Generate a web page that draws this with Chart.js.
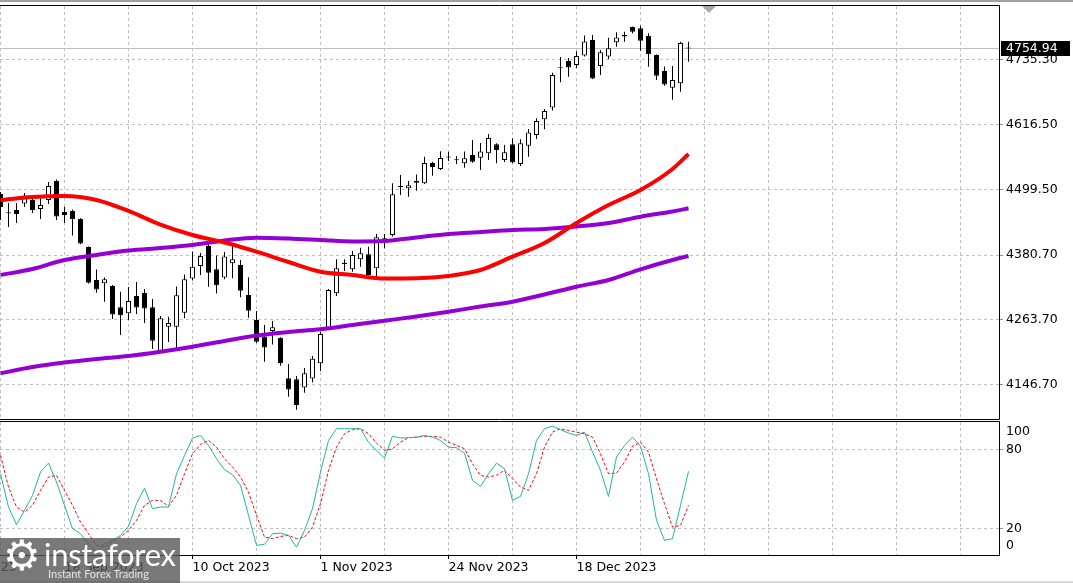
<!DOCTYPE html>
<html>
<head>
<meta charset="utf-8">
<script src="https://cdn.jsdelivr.net/npm/chart.js@4.4.0/dist/chart.umd.min.js"></script>
<style>
  html, body { margin: 0; padding: 0; background: #fff; }
  #wrap { position: relative; width: 1073px; height: 583px; overflow: hidden; background: #fff; }
  #c1 { position: absolute; left: 0; top: 0; }
  #c2 { position: absolute; left: 0; top: 420px; }
  #frameTop { position: absolute; left: 0; top: 0; width: 1073px; height: 2px; background: #a0a0a0; }
  #frameBottom { position: absolute; left: 0; top: 581px; width: 1073px; height: 2px; background: #d8d8d8; }
  #shift { position: absolute; left: 702px; top: 6px; width: 0; height: 0;
           border-left: 7px solid transparent; border-right: 7px solid transparent; border-top: 7px solid #a8a8a8; }
  #logo { position: absolute; left: 0; top: 538px; width: 180px; height: 45px; background: rgba(88, 88, 88, 0.8); }
  #gear { position: absolute; left: 3px; top: -3px; font: 42px 'DejaVu Sans'; color: #fff; line-height: 1; }
  #brand { position: absolute; left: 44px; top: 1px; font: 31px Lato; color: #fff; line-height: 1; letter-spacing: -0.3px; }
  #tag { position: absolute; left: 48px; top: 30px; font: 11px Lato; color: #e4e4e4; line-height: 1; }
</style>
</head>
<body>
<div id="wrap">
  <canvas id="c1" width="1073" height="420"></canvas>
  <canvas id="c2" width="1073" height="163"></canvas>
  <div id="frameTop"></div>
  <div id="frameBottom"></div>
  <div id="shift"></div>
  <div id="logo">
    <div id="gear">⚙</div>
    <div id="brand">instaforex</div>
    <div id="tag">Instant Forex Trading</div>
  </div>
</div>
<script>
// daily candles, bar index 0 .. 86
const opens = [4491.4, 4457.0, 4462.4, 4474.2, 4480.5, 4464.2, 4480.5, 4514.9, 4458.8, 4460.6,
  4446.1, 4395.4, 4335.6, 4329.6, 4324.8, 4286.2, 4275.3, 4306.6, 4312.1, 4286.2,
  4207.0, 4251.0, 4251.0, 4276.4, 4338.3, 4361.0, 4397.2, 4355.0, 4340.1, 4365.9,
  4362.8, 4308.5, 4263.2, 4232.9, 4243.3, 4231.1, 4157.6, 4155.8, 4140.9, 4157.2,
  4184.8, 4248.1, 4311.5, 4366.9, 4355.0, 4373.1, 4382.2, 4356.8, 4405.0, 4417.1,
  4505.9, 4501.7, 4514.9, 4510.7, 4547.5, 4536.6, 4557.5, 4552.9, 4547.0, 4562.0,
  4557.1, 4565.1, 4581.4, 4552.9, 4581.4, 4545.7, 4578.8, 4598.2, 4626.6, 4648.0,
  4719.0, 4732.2, 4725.0, 4742.2, 4770.3, 4723.2, 4740.4, 4766.1, 4779.3, 4793.8,
  4791.4, 4777.5, 4743.1, 4714.1, 4683.9, 4691.8, 4755.8];
const highs = [4495.0, 4475.1, 4475.1, 4493.2, 4489.6, 4484.1, 4513.1, 4517.6, 4467.8, 4463.3,
  4447.5, 4396.5, 4354.6, 4340.1, 4326.6, 4314.4, 4322.9, 4332.0, 4319.3, 4301.2,
  4270.4, 4269.2, 4323.8, 4345.6, 4387.2, 4384.5, 4402.1, 4380.0, 4386.3, 4398.1,
  4371.8, 4340.5, 4279.5, 4254.1, 4261.4, 4232.0, 4183.5, 4161.8, 4176.3, 4198.0,
  4241.4, 4319.3, 4373.1, 4373.1, 4388.1, 4394.1, 4395.9, 4418.9, 4418.9, 4510.7,
  4525.8, 4514.9, 4526.7, 4558.9, 4549.9, 4568.7, 4568.0, 4560.2, 4568.3, 4589.2,
  4583.7, 4600.0, 4583.2, 4580.1, 4592.2, 4590.4, 4609.1, 4628.5, 4645.3, 4711.0,
  4739.5, 4737.7, 4749.8, 4778.4, 4779.3, 4752.1, 4774.4, 4784.2, 4785.3, 4794.5,
  4796.2, 4782.4, 4744.0, 4722.3, 4723.2, 4767.2, 4767.2];
const lows = [4444.3, 4431.6, 4438.8, 4467.8, 4457.0, 4446.1, 4473.3, 4444.3, 4438.8, 4416.2,
  4400.5, 4329.5, 4312.6, 4296.3, 4265.0, 4236.0, 4263.2, 4274.0, 4257.7, 4210.7,
  4203.4, 4223.3, 4212.5, 4266.3, 4334.7, 4344.7, 4323.5, 4311.2, 4336.9, 4338.7,
  4304.3, 4267.3, 4221.5, 4187.7, 4218.8, 4180.4, 4124.3, 4100.7, 4131.5, 4150.0,
  4170.8, 4247.0, 4306.6, 4351.9, 4350.7, 4359.7, 4343.5, 4341.6, 4393.0, 4414.4,
  4489.6, 4486.5, 4497.3, 4509.5, 4524.5, 4534.8, 4551.1, 4545.7, 4539.0, 4548.1,
  4534.8, 4552.9, 4547.0, 4549.3, 4547.0, 4542.1, 4558.9, 4591.0, 4608.5, 4642.6,
  4693.7, 4703.8, 4719.6, 4740.4, 4699.6, 4706.9, 4735.9, 4758.1, 4767.2, 4782.4,
  4750.9, 4721.9, 4697.8, 4687.5, 4662.1, 4676.6, 4731.0];
const closes = [4467.8, 4456.4, 4455.1, 4488.6, 4462.4, 4471.4, 4505.9, 4450.6, 4453.3, 4446.1,
  4401.7, 4330.7, 4318.4, 4336.9, 4273.1, 4271.7, 4297.6, 4285.8, 4284.0, 4225.7,
  4266.3, 4257.7, 4307.9, 4336.9, 4359.7, 4379.1, 4348.8, 4326.0, 4378.2, 4373.1,
  4316.2, 4280.0, 4223.9, 4213.4, 4250.0, 4185.3, 4137.3, 4109.2, 4166.7, 4193.1,
  4237.8, 4317.5, 4356.8, 4364.6, 4380.9, 4384.0, 4344.7, 4412.9, 4411.1, 4490.8,
  4504.0, 4507.1, 4511.8, 4547.5, 4540.3, 4556.6, 4558.4, 4552.4, 4556.0, 4549.9,
  4568.3, 4592.8, 4571.0, 4566.9, 4548.4, 4583.2, 4602.7, 4623.6, 4641.7, 4706.9,
  4719.6, 4720.5, 4741.3, 4767.5, 4700.5, 4748.0, 4755.2, 4774.8, 4776.6, 4785.3,
  4769.0, 4744.4, 4705.6, 4689.7, 4697.8, 4764.8, 4754.94];

// moving averages, read every 4 bars
const maIdx = [0, 4, 8, 12, 16, 20, 24, 28, 32, 36, 40, 44, 48, 52, 56, 60, 64, 68, 72, 76, 80, 84, 86];
const maRed = [4480.5, 4485.9, 4487.7, 4480.5, 4460.6, 4436.1, 4417.1, 4403.5, 4386.9, 4368.2, 4350.7, 4344.7,
  4338.3, 4338.7, 4342.9, 4353.7, 4377.8, 4402.6, 4438.8, 4471.4, 4498.6, 4536.6, 4563.8];
const maMid = [4344.7, 4355.5, 4371.8, 4380.9, 4389.0, 4393.6, 4399.0, 4407.2, 4412.2, 4410.8, 4408.1, 4405.3,
  4406.2, 4412.6, 4418.9, 4422.5, 4426.2, 4428.0, 4432.5, 4438.8, 4450.3, 4459.7, 4465.5];
const maLow = [4166.7, 4178.1, 4186.2, 4192.6, 4198.0, 4205.8, 4214.8, 4225.1, 4235.1, 4241.4, 4246.3, 4254.1,
  4261.9, 4269.5, 4278.2, 4287.6, 4296.3, 4309.4, 4323.5, 4335.6, 4355.0, 4371.8, 4379.1];

// stochastic oscillator
const stochMain = [61.7, 36.4, 23.0, 33.9, 45.3, 63.0, 69.8, 55.4, 37.7, 20.0,
  16.2, 8.6, 2.2, 8.6, 11.1, 14.9, 21.7, 39.0, 50.8, 35.2,
  36.4, 36.4, 61.7, 75.6, 88.8, 90.8, 83.2, 73.1, 64.8, 61.0,
  52.9, 30.1, 7.3, 8.1, 16.2, 16.6, 14.9, 6.0, 18.7, 35.2,
  63.0, 87.0, 95.9, 95.9, 95.9, 95.9, 85.7, 79.4, 73.6, 90.3,
  88.8, 89.1, 89.5, 90.8, 89.5, 87.0, 81.9, 81.5, 77.4, 56.7,
  52.1, 61.7, 69.8, 65.5, 41.5, 44.5, 61.7, 87.0, 95.9, 97.9,
  95.2, 92.6, 90.8, 93.3, 78.2, 64.3, 44.5, 74.4, 83.2, 89.5,
  82.5, 61.7, 26.3, 11.1, 12.4, 37.7, 63.5];
const stochSignal = [75.6, 51.6, 36.4, 32.6, 37.7, 49.1, 59.2, 60.5, 49.1, 37.7,
  25.0, 16.2, 7.3, 6.0, 9.8, 13.6, 18.7, 26.3, 37.7, 41.5,
  41.5, 36.9, 45.3, 61.7, 76.9, 84.0, 87.0, 81.9, 73.1, 66.8,
  59.2, 47.8, 30.1, 13.6, 12.4, 14.1, 14.9, 12.4, 13.6, 21.2,
  39.0, 64.3, 81.9, 92.1, 95.2, 95.9, 92.1, 85.0, 79.4, 80.7,
  85.7, 89.1, 89.5, 90.1, 90.1, 89.5, 85.7, 83.2, 80.7, 69.3,
  60.5, 59.2, 60.5, 64.3, 57.9, 51.6, 49.1, 61.7, 81.9, 93.3,
  95.9, 94.6, 93.3, 92.1, 89.5, 76.9, 61.7, 62.2, 70.6, 82.5,
  85.7, 78.2, 57.9, 39.0, 21.2, 22.5, 37.7];

const priceTicks = [4146.70, 4263.70, 4380.70, 4499.50, 4616.50, 4735.30];
const stochLevels = [20, 80];
const stochEdgeLabels = ['100', '0'];
const dateIdx = [-8, 8, 24, 40, 56, 72];
const dateText = ['24 Aug 2023', '18 Sep 2023', '10 Oct 2023', '1 Nov 2023', '24 Nov 2023', '18 Dec 2023'];
const lastPrice = 4754.94;

Chart.defaults.font.family = 'DejaVu Sans';
Chart.defaults.font.size = 12.5;
Chart.defaults.color = '#000';
Chart.defaults.animation = false;

const GRID = '#c0c0c0';
const LABEL_FONT = '12.5px "DejaVu Sans"';
const X_MIN = -0.0625;
const X_MAX = X_MIN + 999 / 8;   // 8 px per bar
const gridSteps = [];
for (let v = 0; v <= 120; v += 8) gridSteps.push(v);

// black frame: top, right and bottom of the plot area
const panelFrame = {
  id: 'panelFrame',
  afterDraw(chart) {
    const { ctx, chartArea: a } = chart;
    ctx.save();
    ctx.strokeStyle = '#000';
    ctx.lineWidth = 1;
    ctx.beginPath();
    ctx.moveTo(0, a.top - 0.5);
    ctx.lineTo(a.right + 0.5, a.top - 0.5);
    ctx.lineTo(a.right + 0.5, a.bottom + 0.5);
    ctx.lineTo(0, a.bottom + 0.5);
    ctx.stroke();
    ctx.restore();
  }
};

// current price line + black label on the price scale
const priceMarker = {
  id: 'priceMarker',
  beforeDatasetsDraw(chart) {
    const { ctx, chartArea: a } = chart;
    const y = Math.round(chart.scales.y.getPixelForValue(lastPrice)) + 0.5;
    ctx.save();
    ctx.strokeStyle = '#c0c0c0';
    ctx.lineWidth = 1;
    ctx.beginPath();
    ctx.moveTo(0, y);
    ctx.lineTo(a.right, y);
    ctx.stroke();
    ctx.restore();
  },
  afterDraw(chart) {
    const { ctx, chartArea: a } = chart;
    const y = Math.round(chart.scales.y.getPixelForValue(lastPrice));
    ctx.save();
    ctx.fillStyle = '#000';
    ctx.fillRect(a.right + 2, y - 7, 69, 15);
    ctx.fillStyle = '#fff';
    ctx.font = LABEL_FONT;
    ctx.textBaseline = 'middle';
    ctx.fillText(lastPrice.toFixed(2), a.right + 7, y + 0.5);
    ctx.restore();
  }
};

// "100" and "0" labels sit just inside the stochastic window
const stochEdges = {
  id: 'stochEdges',
  afterDraw(chart) {
    const { ctx, chartArea: a } = chart;
    ctx.save();
    ctx.fillStyle = '#000';
    ctx.font = LABEL_FONT;
    ctx.textBaseline = 'middle';
    ctx.fillText(stochEdgeLabels[0], a.right + 7, a.top + 10);
    ctx.fillText(stochEdgeLabels[1], a.right + 7, a.bottom - 9);
    ctx.restore();
  }
};

const idx = opens.map((_, i) => i);
const isUp = i => closes[i] - opens[i] > 2.5;

new Chart(document.getElementById('c1'), {
  type: 'bar',
  data: {
    datasets: [
      { type: 'line', data: maIdx.map((x, k) => ({ x, y: maRed[k] })), borderColor: '#ff0000', borderWidth: 4,
        pointRadius: 0, cubicInterpolationMode: 'monotone' },
      { type: 'line', data: maIdx.map((x, k) => ({ x, y: maMid[k] })), borderColor: '#9400d3', borderWidth: 4,
        pointRadius: 0, cubicInterpolationMode: 'monotone' },
      { type: 'line', data: maIdx.map((x, k) => ({ x, y: maLow[k] })), borderColor: '#9400d3', borderWidth: 4,
        pointRadius: 0, cubicInterpolationMode: 'monotone' },
      { // candle bodies
        data: idx.map(i => ({ x: i, y: [opens[i], closes[i]] })),
        backgroundColor: ctx => isUp(ctx.dataIndex) ? '#ffffff' : '#000000',
        borderColor: '#000', borderWidth: 1, borderSkipped: false, inflateAmount: 0,
        grouped: false, barThickness: 5, maxBarThickness: 5, minBarLength: 1 },
      { // wicks
        data: idx.map(i => ({ x: i, y: [lows[i], highs[i]] })),
        backgroundColor: '#000', borderWidth: 0, inflateAmount: 0,
        grouped: false, barThickness: 1, maxBarThickness: 1 }
    ]
  },
  options: {
    responsive: false,
    layout: { autoPadding: false, padding: { top: 6, bottom: 1, left: 0, right: 0 } },
    plugins: { legend: { display: false }, tooltip: { enabled: false } },
    scales: {
      x: {
        type: 'linear', min: X_MIN, max: X_MAX, offset: false,
        afterBuildTicks: s => { s.ticks = gridSteps.map(v => ({ value: v })); },
        afterFit: s => { s.height = 0; s.paddingLeft = 0; s.paddingRight = 0; },
        ticks: { display: false },
        grid: { color: GRID, drawTicks: false, offset: false },
        border: { display: false, dash: [3, 3] }
      },
      y: {
        position: 'right', min: 4083.9, max: 4831.8,
        afterBuildTicks: s => { s.ticks = priceTicks.map(v => ({ value: v })); },
        afterFit: s => { s.width = 74; s.paddingTop = 0; s.paddingBottom = 0; },
        ticks: { callback: v => Number(v).toFixed(2), padding: 3 },
        grid: { color: GRID, tickLength: 4, tickColor: '#909090' },
        border: { display: false, dash: [3, 3] }
      }
    }
  },
  plugins: [priceMarker, panelFrame]
});

new Chart(document.getElementById('c2'), {
  type: 'line',
  data: {
    datasets: [
      { data: idx.map(i => ({ x: i, y: stochMain[i] })), borderColor: '#20b2aa', borderWidth: 1,
        pointRadius: 0, tension: 0 },
      { data: idx.map(i => ({ x: i, y: stochSignal[i] })), borderColor: '#ff0000', borderWidth: 1,
        borderDash: [3, 2], pointRadius: 0, tension: 0 }
    ]
  },
  options: {
    responsive: false,
    layout: { autoPadding: false, padding: { top: 2, bottom: 0, left: 0, right: 0 } },
    plugins: { legend: { display: false }, tooltip: { enabled: false } },
    scales: {
      x: {
        type: 'linear', min: X_MIN, max: X_MAX, offset: false,
        afterBuildTicks: s => { s.ticks = [-8].concat(gridSteps).map(v => ({ value: v })); },
        afterFit: s => { s.height = 28; s.paddingLeft = 0; s.paddingRight = 0; },
        ticks: {
          autoSkip: false, maxRotation: 0, minRotation: 0, align: 'start', padding: 1,
          callback: v => { const k = dateIdx.indexOf(v); return k < 0 ? '' : dateText[k]; }
        },
        grid: {
          color: GRID, tickLength: 4,
          tickColor: c => (c.tick && dateIdx.includes(c.tick.value)) ? '#000' : 'transparent'
        },
        border: { display: false, dash: [3, 3] }
      },
      y: {
        position: 'right', min: 0, max: 101,
        afterBuildTicks: s => { s.ticks = stochLevels.map(v => ({ value: v })); },
        afterFit: s => { s.width = 74; s.paddingTop = 0; s.paddingBottom = 0; },
        ticks: { padding: 3 },
        grid: { color: GRID, tickLength: 4, tickColor: '#909090' },
        border: { display: false, dash: [3, 3] }
      }
    }
  },
  plugins: [stochEdges, panelFrame]
});
</script>
</body>
</html>
